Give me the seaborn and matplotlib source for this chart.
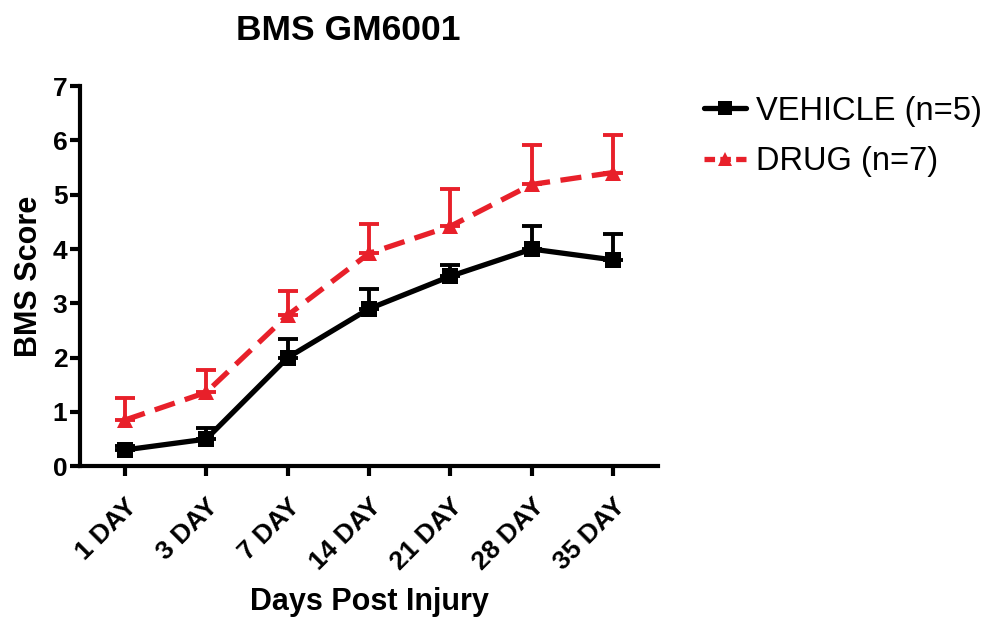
import matplotlib
matplotlib.use("Agg")
import matplotlib.pyplot as plt
import matplotlib.transforms as mtransforms
import seaborn as sns
import pandas as pd
from matplotlib.lines import Line2D

days = ["1 DAY", "3 DAY", "7 DAY", "14 DAY", "21 DAY", "28 DAY", "35 DAY"]
vehicle_mean = [0.3, 0.5, 2.0, 2.9, 3.5, 4.0, 3.8]
vehicle_sem = [0.08, 0.2, 0.34, 0.36, 0.2, 0.42, 0.47]
drug_mean = [0.85, 1.36, 2.78, 3.92, 4.42, 5.19, 5.41]
drug_sem = [0.4, 0.41, 0.44, 0.55, 0.68, 0.72, 0.7]
groups = ["VEHICLE (n=5)", "DRUG (n=7)"]

sns.set_theme(style="ticks")
plt.rcParams["font.family"] = ["Liberation Sans", "DejaVu Sans"]
for key in ["text.color", "axes.labelcolor", "xtick.color", "ytick.color"]:
    plt.rcParams[key] = "black"

df = pd.DataFrame({
    "pos": list(range(len(days))) * 2,
    "score": vehicle_mean + drug_mean,
    "group": [groups[0]] * len(days) + [groups[1]] * len(days),
})

colors = {groups[0]: "#000000", groups[1]: "#e8202a"}
markers = {groups[0]: "s", groups[1]: "^"}
dashes = {groups[0]: "", groups[1]: (4, 2)}

fig = plt.figure(figsize=(9.93, 6.2), dpi=100)
ax = fig.add_axes([80 / 993, 0.248, 578 / 993, 0.613])

x = list(range(len(days)))
# upper-only error bars with caps
ax.errorbar(x, drug_mean, yerr=[[0] * len(x), drug_sem], fmt="none",
            ecolor=colors[groups[1]], elinewidth=2.8, capsize=7, capthick=2.8, zorder=2)
ax.errorbar(x, vehicle_mean, yerr=[[0] * len(x), vehicle_sem], fmt="none",
            ecolor=colors[groups[0]], elinewidth=2.8, capsize=7, capthick=2.8, zorder=2)

sns.lineplot(data=df, x="pos", y="score", hue="group", style="group",
             palette=colors, markers=markers, dashes=dashes, linewidth=3.8,
             markersize=12, markeredgewidth=0, legend=False, ax=ax, zorder=3)

ax.set_xlim(-0.55, 6.55)
ax.set_ylim(0, 7)
ax.set_yticks(range(8))
ax.set_xticks(x)
ax.set_xticklabels(days, rotation=45, ha="right", rotation_mode="anchor")
shift = mtransforms.ScaledTranslation(-7 / 100, 0, fig.dpi_scale_trans)
for lab in ax.get_xticklabels():
    lab.set_transform(lab.get_transform() + shift)
for lab in ax.get_xticklabels() + ax.get_yticklabels():
    lab.set_fontweight("bold")
    lab.set_fontsize(19)

for side in ["top", "right"]:
    ax.spines[side].set_visible(False)
for side in ["left", "bottom"]:
    ax.spines[side].set_linewidth(3)
    ax.spines[side].set_color("black")
ax.tick_params(axis="both", width=3, length=7, color="black", pad=2)
ax.tick_params(axis="x", pad=13)

ax.set_ylabel("BMS Score", fontsize=22, fontweight="bold", labelpad=6)
ax.set_xlabel("Days Post Injury", fontsize=22, fontweight="bold", labelpad=9)
fig.text(348 / 993, 1 - 31 / 620, "BMS GM6001", fontsize=25.5, fontweight="bold",
         ha="center", va="center")

handles = [
    Line2D([], [], color=colors[groups[0]], marker="s", lw=3.8, markersize=10,
           markeredgewidth=0),
    Line2D([], [], color=colors[groups[1]], marker="^", lw=3.8, markersize=10,
           markeredgewidth=0, dashes=(2, 1)),
]
fig.legend(handles, groups, loc="upper left", bbox_to_anchor=(694 / 993, 1 - 86 / 620),
           frameon=False, fontsize=23.5, handlelength=1.3, handletextpad=0.3,
           labelspacing=0.6, borderaxespad=0, borderpad=0.3)

fig.savefig("out.png", dpi=100)
